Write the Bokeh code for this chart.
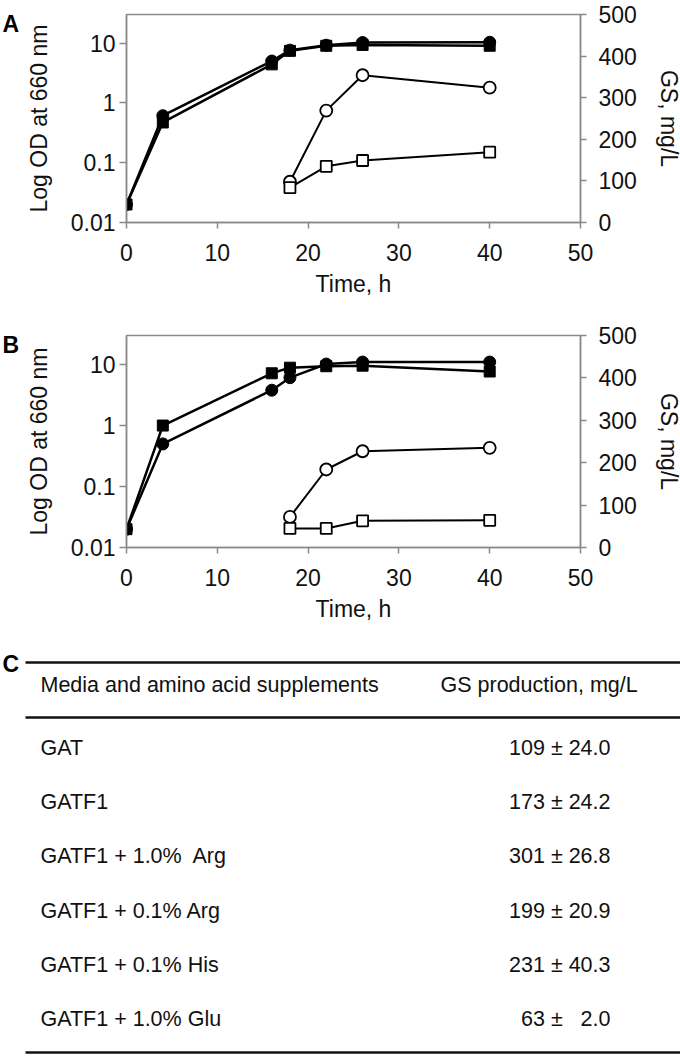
from bokeh.plotting import figure
from bokeh.models import (Range1d, LinearAxis, LinearScale, FixedTicker,
                          CustomJSTickFormatter)
from bokeh.layouts import row
from bokeh.embed import file_html
from bokeh.resources import INLINE
from bokeh.core.properties import value

# ---------------- data ----------------
time_od = [0, 4, 16, 18, 22, 26, 40]
time_gs = [18, 22, 26, 40]

a_od_filled_circle = [0.02, 0.61, 5.0, 7.6, 9.2, 10.2, 10.3]
a_od_filled_square = [0.02, 0.47, 4.4, 7.4, 9.0, 9.3, 9.0]
a_gs_open_circle = [98, 269, 354, 324]
a_gs_open_square = [84, 135, 149, 169]

b_od_filled_circle = [0.02, 0.50, 3.8, 6.1, 10.2, 11.0, 11.0]
b_od_filled_square = [0.02, 1.0, 7.2, 8.9, 9.4, 9.6, 7.7]
b_gs_open_circle = [72, 184, 227, 235]
b_gs_open_square = [45, 45, 63, 64]

od_ticks = [0.01, 0.1, 1, 10]
time_ticks = [0, 10, 20, 30, 40, 50]
gs_ticks = [0, 100, 200, 300, 400, 500]

media = ["GAT", "GATF1", "GATF1 + 1.0%\u00a0 Arg", "GATF1 + 0.1% Arg",
         "GATF1 + 0.1% His", "GATF1 + 1.0% Glu"]
gs_mean = [109, 173, 301, 199, 231, 63]
gs_sd = [24.0, 24.2, 26.8, 20.9, 40.3, 2.0]
header_left = "Media and amino acid supplements"
header_right = "GS production, mg/L"

# ---------------- style ----------------
FONT = "Liberation Sans"
GRAY = "#8a8a8a"
TXT = "#111111"
FS = "23px"
LETTER_W = 22
LETTER_FS = "23px"


def style_axis(ax, tick_out):
    ax.axis_line_color = GRAY
    ax.axis_line_width = 1.5
    ax.major_tick_line_color = GRAY
    ax.major_tick_line_width = 1.5
    ax.major_tick_out = tick_out
    ax.major_tick_in = 0
    ax.minor_tick_out = 0
    ax.minor_tick_in = 0
    ax.minor_tick_line_color = None
    ax.major_label_text_font = FONT
    ax.major_label_text_font_size = FS
    ax.major_label_text_color = TXT
    ax.axis_label_text_font = FONT
    ax.axis_label_text_font_size = FS
    ax.axis_label_text_font_style = "normal"
    ax.axis_label_text_color = TXT


def letter_fig(letter, top, fh, bottom):
    f = figure(frame_width=LETTER_W, frame_height=fh,
               min_border_left=0, min_border_right=0,
               min_border_top=top, min_border_bottom=bottom,
               x_range=Range1d(0, LETTER_W), y_range=Range1d(fh, 0),
               output_backend="svg", toolbar_location=None)
    f.axis.visible = False
    f.grid.visible = False
    f.outline_line_color = None
    f.text(x=[2], y=[9], text=[letter], text_font=value(FONT),
           text_font_size=LETTER_FS, text_font_style="bold", text_color="black",
           text_baseline="middle", text_align="left")
    return f


def make_panel(od_c, od_s, gs_c, gs_s, top, fh, bottom):
    p = figure(frame_width=454, frame_height=fh,
               min_border_left=125 - LETTER_W, min_border_right=101,
               min_border_top=top, min_border_bottom=bottom,
               x_range=Range1d(0, 50), y_range=Range1d(0.01, 30),
               y_axis_type="log", output_backend="svg", toolbar_location=None)
    p.extra_y_ranges = {"gs": Range1d(0, 500)}
    p.extra_y_scales = {"gs": LinearScale()}
    p.xgrid.visible = False
    p.ygrid.visible = False
    p.outline_line_color = GRAY
    p.outline_line_width = 1.5
    p.background_fill_color = "white"
    p.border_fill_color = "white"

    xa = p.xaxis[0]
    xa.ticker = FixedTicker(ticks=time_ticks)
    xa.axis_label = "Time, h"
    style_axis(xa, 6)
    xa.major_label_standoff = 15
    xa.axis_label_standoff = 7

    ya = p.yaxis[0]
    ya.ticker = FixedTicker(ticks=od_ticks)
    ya.formatter = CustomJSTickFormatter(code="return tick.toString();")
    ya.axis_label = "Log OD at 660 nm"
    style_axis(ya, 7)
    ya.major_label_standoff = 4
    ya.axis_label_standoff = 16

    ra = LinearAxis(y_range_name="gs", ticker=FixedTicker(ticks=gs_ticks),
                    axis_label="GS, mg/L")
    style_axis(ra, 6)
    ra.major_label_standoff = 12
    ra.axis_label_standoff = 16
    p.add_layout(ra, "right")

    # filled symbols: OD on the log axis
    p.line(time_od, od_c, line_color="black", line_width=2.5)
    p.line(time_od, od_s, line_color="black", line_width=2.5)
    p.scatter(time_od, od_c, marker="circle", size=12,
              fill_color="black", line_color="black")
    p.scatter(time_od, od_s, marker="square", size=11,
              fill_color="black", line_color="black")
    # open symbols: GS on the right axis
    p.line(time_gs, gs_c, y_range_name="gs", line_color="black", line_width=2)
    p.line(time_gs, gs_s, y_range_name="gs", line_color="black", line_width=2)
    p.scatter(time_gs, gs_c, y_range_name="gs", marker="circle", size=12,
              fill_color="white", line_color="black", line_width=1.8)
    p.scatter(time_gs, gs_s, y_range_name="gs", marker="square", size=11,
              fill_color="white", line_color="black", line_width=1.8)
    return p


pa = make_panel(a_od_filled_circle, a_od_filled_square,
                a_gs_open_circle, a_gs_open_square, top=14, fh=208, bottom=80)
la = letter_fig("A", top=14, fh=208, bottom=80)
pb = make_panel(b_od_filled_circle, b_od_filled_square,
                b_gs_open_circle, b_gs_open_square, top=33, fh=212, bottom=78)
lb = letter_fig("B", top=33, fh=212, bottom=78)

# ---------------- table C ----------------
t = figure(width=680, height=432, x_range=Range1d(0, 680),
           y_range=Range1d(5.699, -2.243), min_border=0,
           output_backend="svg", toolbar_location=None)
t.axis.visible = False
t.grid.visible = False
t.outline_line_color = None

rows = list(range(len(media)))
value_labels = []
for m, s in zip(gs_mean, gs_sd):
    s_txt = f"{s:.1f}"
    pad = "\u00a0\u00a0" * (4 - len(s_txt))
    value_labels.append(f"{m} ±\u00a0{pad}{s_txt}")

rule_y = [-1.5625, -0.551, 5.607]
t.segment(x0=[25] * 3, y0=rule_y, x1=[680] * 3, y1=rule_y,
          line_color="#111111", line_width=2.5)
t.text(x=[40], y=[-1.14], text=[header_left], text_font=value(FONT),
       text_font_size="21.5px", text_color=TXT, text_baseline="middle")
t.text(x=[440], y=[-1.14], text=[header_right], text_font=value(FONT),
       text_font_size="21.5px", text_color=TXT, text_baseline="middle")
t.text(x=[40] * len(rows), y=rows, text=media, text_font=value(FONT),
       text_font_size="21.5px", text_color=TXT, text_baseline="middle")
t.text(x=[610] * len(rows), y=rows, text=value_labels, text_font=value(FONT),
       text_font_size="21.5px", text_color=TXT, text_baseline="middle",
       text_align="right")
t.text(x=[2], y=[-1.544], text=["C"], text_font=value(FONT),
       text_font_size=LETTER_FS, text_font_style="bold", text_color="black",
       text_baseline="middle")

row_a = row(la, pa, spacing=0)
row_b = row(lb, pb, spacing=0)
open("out.html", "w").write(file_html([row_a, row_b, t], INLINE))
